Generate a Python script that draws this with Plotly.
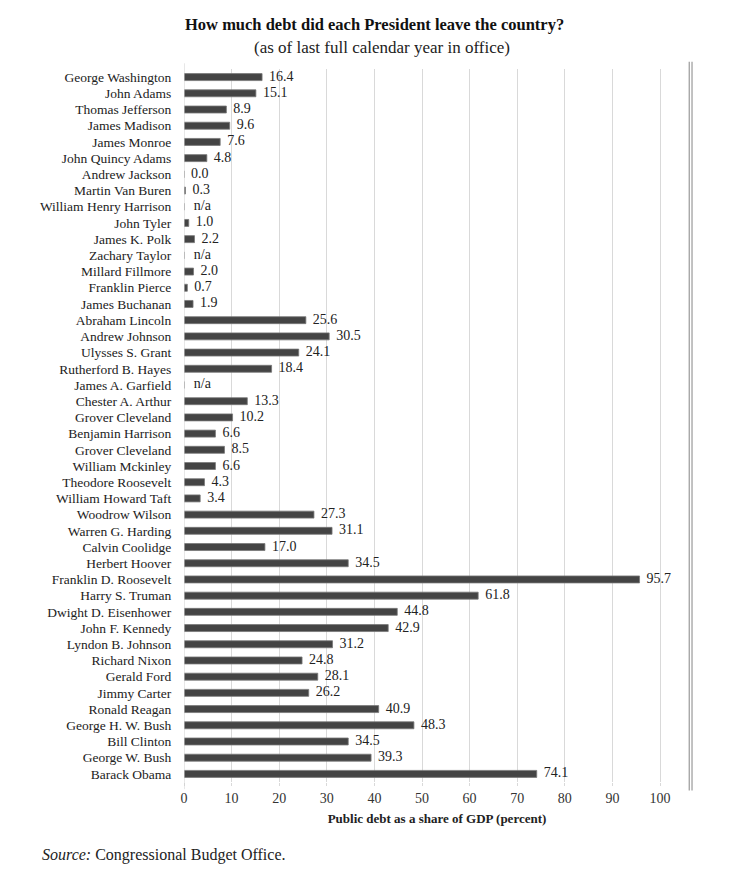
import plotly.graph_objects as go

presidents = ["George Washington", "John Adams", "Thomas Jefferson", "James Madison", "James Monroe",
              "John Quincy Adams", "Andrew Jackson", "Martin Van Buren", "William Henry Harrison",
              "John Tyler", "James K. Polk", "Zachary Taylor", "Millard Fillmore", "Franklin Pierce",
              "James Buchanan", "Abraham Lincoln", "Andrew Johnson", "Ulysses S. Grant",
              "Rutherford B. Hayes", "James A. Garfield", "Chester A. Arthur", "Grover Cleveland",
              "Benjamin Harrison", "Grover Cleveland ", "William Mckinley", "Theodore Roosevelt",
              "William Howard Taft", "Woodrow Wilson", "Warren G. Harding", "Calvin Coolidge",
              "Herbert Hoover", "Franklin D. Roosevelt", "Harry S. Truman", "Dwight D. Eisenhower",
              "John F. Kennedy", "Lyndon B. Johnson", "Richard Nixon", "Gerald Ford", "Jimmy Carter",
              "Ronald Reagan", "George H. W. Bush", "Bill Clinton", "George W. Bush", "Barack Obama"]
debt = [16.4, 15.1, 8.9, 9.6, 7.6, 4.8, 0.0, 0.3, None, 1.0, 2.2, None, 2.0, 0.7, 1.9,
        25.6, 30.5, 24.1, 18.4, None, 13.3, 10.2, 6.6, 8.5, 6.6, 4.3, 3.4,
        27.3, 31.1, 17.0, 34.5, 95.7, 61.8, 44.8, 42.9, 31.2, 24.8, 28.1, 26.2,
        40.9, 48.3, 34.5, 39.3, 74.1]
x_ticks = list(range(0, 101, 10))

FONT = "Liberation Serif"
labels = ["n/a" if v is None else f"{v:.1f}" for v in debt]
text_x = [0.6 if v is None else v for v in debt]
n = len(presidents)

fig = go.Figure()
fig.add_trace(go.Bar(
    y=presidents, x=[0 if v is None else v for v in debt], orientation="h",
    marker=dict(color="#444444", line=dict(color="#777777", width=0.8)),
    hoverinfo="skip", showlegend=False,
))
fig.add_trace(go.Scatter(
    y=presidents, x=text_x, mode="text", text=["  " + t for t in labels], textposition="middle right",
    textfont=dict(family=FONT, size=14, color="#222222"), hoverinfo="skip", showlegend=False,
))

fig.update_layout(
    width=749, height=888,
    margin=dict(l=184, r=59, t=69, b=106),
    paper_bgcolor="white", plot_bgcolor="white",
    bargap=0.57,
    font=dict(family=FONT, color="#222222"),
    xaxis=dict(range=[0, 106.3], tickvals=x_ticks, showgrid=True, gridcolor="#d9d9d9",
               gridwidth=1, zeroline=False, ticks="outside", ticklen=3, tickcolor="#d9d9d9",
               tickfont=dict(family=FONT, size=14, color="#333333"),
               title=dict(text="<b>Public debt as a share of GDP (percent)</b>",
                          font=dict(family=FONT, size=13, color="#222222"), standoff=9),
               showline=False),
    yaxis=dict(range=[n - 0.5, -0.5], type="category", showgrid=False,
               tickmode="array", tickvals=presidents, ticktext=[p.strip() for p in presidents],
               ticks="outside", ticklen=9, tickcolor="rgba(0,0,0,0)",
               tickfont=dict(family=FONT, size=13.5, color="#222222"), showline=False),
    shapes=[
        dict(type="line", xref="x", yref="paper", x0=0, x1=0, y0=-0.01, y1=1.008,
             line=dict(color="#d0d0d0", width=1)),
        dict(type="line", xref="paper", yref="paper", x0=0.9985, x1=0.9985, y0=-0.012, y1=1.01,
             line=dict(color="#999999", width=1.2)),
        dict(type="line", xref="paper", yref="paper", x0=1.004, x1=1.004, y0=-0.012, y1=1.01,
             line=dict(color="#999999", width=1.2)),
    ],
    annotations=[
        dict(text="<b>How much debt did each President leave the country?</b>", xref="paper", yref="paper",
             x=(374 - 184) / 506, y=(888 - 106 - 24) / 713, xanchor="center", yanchor="middle",
             showarrow=False, font=dict(family=FONT, size=16.5, color="#111111")),
        dict(text="(as of last full calendar year in office)", xref="paper", yref="paper",
             x=(382 - 184) / 506, y=(888 - 106 - 47) / 713, xanchor="center", yanchor="middle",
             showarrow=False, font=dict(family=FONT, size=17, color="#222222")),
        dict(text="<i>Source:</i> Congressional Budget Office.", xref="paper", yref="paper",
             x=(40 - 184) / 506, y=(888 - 106 - 855) / 713, xanchor="left", yanchor="middle",
             showarrow=False, font=dict(family=FONT, size=16, color="#222222")),
    ],
)

fig.write_html("out.html")
